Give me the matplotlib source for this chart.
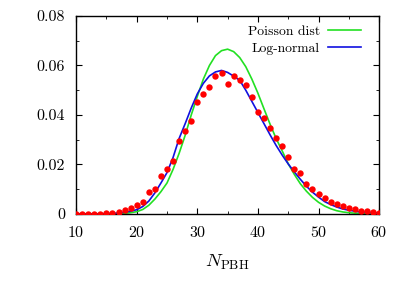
#!/usr/bin/env python3

import matplotlib
matplotlib.use('Agg')
import matplotlib.pyplot as plt
from matplotlib.ticker import MultipleLocator, FixedFormatter, FixedLocator

# Data
n_pbh = list(range(10, 61))

# histogram points (red dots)
sim = [0.0, 0.0, 0.0, 0.0, 0.0, 0.0003, 0.0005, 0.0009, 0.0015, 0.0025,
       0.0037, 0.0050, 0.0088, 0.0102, 0.0152, 0.0180, 0.0214, 0.0295, 0.0334, 0.0374,
       0.0453, 0.0483, 0.0513, 0.0557, 0.0568, 0.0526, 0.0557, 0.0542, 0.0522, 0.0471,
       0.0412, 0.0388, 0.0348, 0.0307, 0.0273, 0.0229, 0.0181, 0.0165, 0.0120, 0.0101,
       0.0082, 0.0065, 0.0050, 0.0039, 0.0031, 0.0024, 0.0018, 0.0013, 0.0010, 0.0007,
       0.0005]

# Poisson dist (green)
poisson = [0.0, 0.0, 0.0, 0.0, 0.0, 0.0, 0.0, 0.0001, 0.0002, 0.0005,
           0.0009, 0.0018, 0.0035, 0.0060, 0.0090, 0.0125, 0.0180, 0.0245, 0.0318, 0.0400,
           0.0475, 0.0545, 0.0600, 0.0640, 0.0660, 0.0666, 0.0656, 0.0632, 0.0595, 0.0545,
           0.0488, 0.0425, 0.0363, 0.0305, 0.0255, 0.0203, 0.0160, 0.0122, 0.0092, 0.0067,
           0.0047, 0.0032, 0.0021, 0.0013, 0.0008, 0.0005, 0.0003, 0.0002, 0.0001, 0.0001,
           0.0]

# Log-normal (blue)
lognormal = [0.0, 0.0, 0.0, 0.0, 0.0, 0.0001, 0.0002, 0.0004, 0.0007, 0.0011,
             0.0017, 0.0030, 0.0052, 0.0085, 0.0125, 0.0167, 0.0228, 0.0305, 0.0365, 0.0428,
             0.0485, 0.0528, 0.0558, 0.0574, 0.0580, 0.0572, 0.0557, 0.0540, 0.0500, 0.0455,
             0.0410, 0.0365, 0.0320, 0.0277, 0.0238, 0.0202, 0.0170, 0.0140, 0.0112, 0.0088,
             0.0068, 0.0050, 0.0038, 0.0028, 0.0020, 0.0015, 0.0011, 0.0008, 0.0006, 0.0005,
             0.0004]

y_ticks = [0, 0.02, 0.04, 0.06, 0.08]
y_labels = ['0', '0.02', '0.04', '0.06', '0.08']

plt.rcParams['font.family'] = 'serif'
plt.rcParams['font.serif'] = ['cmr10', 'DejaVu Serif']
plt.rcParams['mathtext.fontset'] = 'cm'
plt.rcParams['axes.formatter.use_mathtext'] = True

fig = plt.figure(figsize=(4.09, 2.86), dpi=100)
ax = fig.add_axes([0.186, 0.252, 0.741, 0.692])

ax.plot(n_pbh, sim, 'o', color='#ff0000', markersize=4.6, markeredgewidth=0, zorder=3)
ax.plot(n_pbh, poisson, color='#22e022', lw=1.2, label='Poisson dist', zorder=2)
ax.plot(n_pbh, lognormal, color='#1010e0', lw=1.2, label='Log-normal', zorder=2)

ax.set_xlim(10, 60)
ax.set_ylim(0, 0.08)
ax.xaxis.set_major_locator(MultipleLocator(10))
ax.xaxis.set_minor_locator(MultipleLocator(5))
ax.yaxis.set_major_locator(FixedLocator(y_ticks))
ax.yaxis.set_major_formatter(FixedFormatter(y_labels))
ax.yaxis.set_minor_locator(MultipleLocator(0.01))
ax.tick_params(which='both', direction='in', top=True, right=True, labelsize=11.5)
ax.tick_params(axis='x', pad=8)
ax.tick_params(axis='y', pad=8)
ax.tick_params(which='major', length=4, width=0.8)
ax.tick_params(which='minor', length=2, width=0.6)
for s in ax.spines.values():
    s.set_linewidth(1.0)

ax.set_xlabel(r'$N_{\rm PBH}$', fontsize=13.5, labelpad=9)

ax.legend(loc='upper right', frameon=False, markerfirst=False, fontsize=9.8,
          handlelength=2.4, handletextpad=0.6, labelspacing=0.3,
          borderaxespad=0.2, borderpad=0.5, bbox_to_anchor=(0.97, 1.0))

plt.savefig('out.png', dpi=100)
